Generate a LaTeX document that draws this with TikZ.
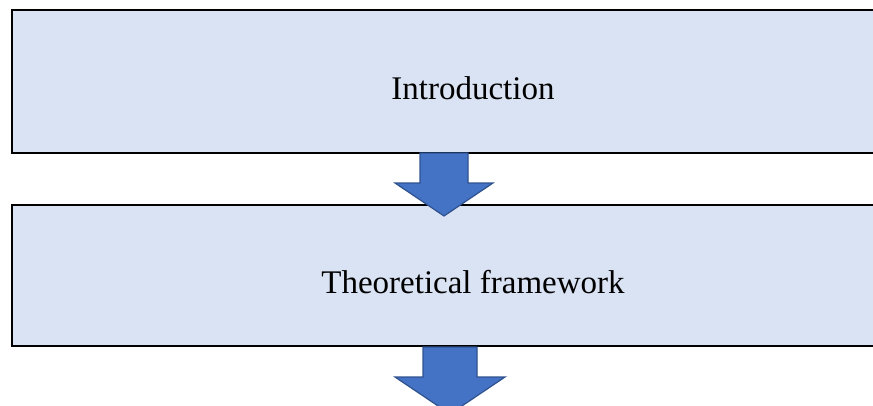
\documentclass[tikz,border=0pt]{standalone}
\usepackage{fontspec}
\setmainfont{Liberation Serif}
\definecolor{boxblue}{RGB}{218,227,243}
\definecolor{arrowblue}{RGB}{68,114,196}
\definecolor{arrowedge}{RGB}{47,82,143}
\tikzset{
    stage/.style={draw, line width=2pt, fill=boxblue, minimum width=922pt,
        text height=37pt, font=\fontsize{33}{36}\selectfont},
    blockarrow/.style={fill=arrowblue, draw=arrowedge, line width=1.2pt, line join=miter}
}
\begin{document}
\begin{tikzpicture}[x=1pt, y=-1pt]
    \useasboundingbox (0,0) rectangle (873,405);
    \node[stage, minimum height=143pt] (intro) at (473,81.5) {Introduction};
    \node[stage, minimum height=141pt] (theory) at (473,275.5) {Theoretical framework};
    \coordinate (down1) at (444,153);
    \coordinate (down2) at (450,347);

    % arrow from intro to theory
    \draw[blockarrow] (down1) ++(-24,0) -- ++(0,30) -- ++(-25,0) -- (444,216)
        -- (493,183) -- ++(-25,0) -- ++(0,-30) -- cycle;
    % arrow below theory
    \draw[blockarrow] (down2) ++(-27,0) -- ++(0,30) -- ++(-28,0) -- (450,414)
        -- (505,377) -- ++(-28,0) -- ++(0,-30) -- cycle;
\end{tikzpicture}
\end{document}
